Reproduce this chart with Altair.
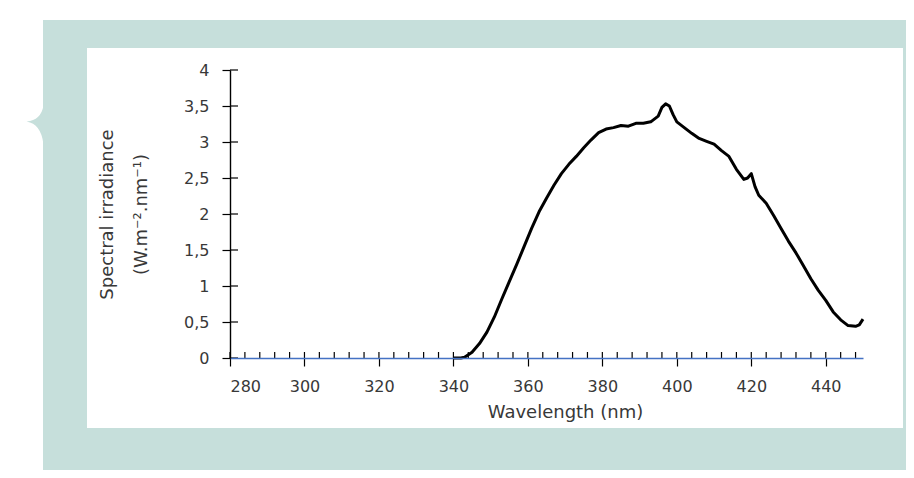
import altair as alt
import pandas as pd

# Spectrum
wavelength = [340, 342, 343, 345, 347, 349, 351, 353, 355, 357, 359, 361, 363,
              365, 367, 369, 371, 373, 375, 377, 379, 381, 383, 385, 387, 389, 391, 393,
              395, 396, 397, 398, 399, 400, 402, 404, 406, 408, 410, 412, 414, 416, 418,
              419, 420, 421, 422, 424, 426, 428, 430, 432, 434, 436, 438, 440, 442, 444,
              446, 448, 449, 450]
irradiance = [0, 0, 0.01, 0.08, 0.2, 0.36, 0.57, 0.82, 1.06, 1.3, 1.55, 1.8, 2.03,
              2.22, 2.4, 2.56, 2.69, 2.8, 2.92, 3.03, 3.13, 3.18, 3.2, 3.23, 3.22, 3.26, 3.26, 3.28,
              3.36, 3.48, 3.53, 3.5, 3.38, 3.28, 3.2, 3.12, 3.05, 3.01, 2.97, 2.88, 2.8, 2.62, 2.48,
              2.5, 2.56, 2.38, 2.26, 2.15, 1.98, 1.8, 1.62, 1.46, 1.28, 1.1, 0.94, 0.8, 0.64, 0.53,
              0.45, 0.44, 0.46, 0.54]

x_major_ticks = [280, 300, 320, 340, 360, 380, 400, 420, 440]
x_minor_ticks = list(range(280, 449, 4))
y_ticks = [0, 0.5, 1, 1.5, 2, 2.5, 3, 3.5, 4]

x_title = "Wavelength (nm)"
y_title = ["Spectral irradiance", "(W.m\u207b\u00b2.nm\u207b\u00b9)"]

TEAL = "#C6DFDB"
TEXT = "#383838"
FONT = "DejaVu Sans"

df = pd.DataFrame({"wl": wavelength, "irr": irradiance})
df_xt = pd.DataFrame({"wl": x_minor_ticks})
df_yt = pd.DataFrame({"irr": y_ticks})
one = pd.DataFrame({"k": [0]})

W, H = 633, 288

xscale = alt.Scale(domain=[280, 450], nice=False, zero=False)
yscale = alt.Scale(domain=[0, 4], nice=False, zero=True)

x_axis = alt.Axis(
    values=x_major_ticks, format="d", tickSize=8, tickColor="black", tickWidth=1.2,
    domainColor="#4472C4", domainWidth=1.6, grid=False, zindex=1,
    labelFont=FONT, labelFontSize=16, labelColor=TEXT, labelPadding=12,
    title=x_title, titleFont=FONT, titleFontSize=18, titleFontWeight="normal",
    titleColor=TEXT, titleX=335, titleY=54, titleAlign="center",
    titleBaseline="middle")
y_axis = alt.Axis(
    values=y_ticks, labelExpr="replace(toString(datum.value), '.', ',')",
    tickSize=8, tickColor="black", tickWidth=1.2,
    domainColor="black", domainWidth=1.4, grid=False, zindex=1,
    labelFont=FONT, labelFontSize=16, labelColor=TEXT, labelPadding=13,
    title=y_title, titleFont=FONT, titleFontSize=18, titleFontWeight="normal",
    titleColor=TEXT, titleAngle=270, titleX=-123, titleY=144, titleAlign="center",
    titleBaseline="middle", titleLineHeight=34)

teal_bg = alt.Chart(one).mark_rect(color=TEAL).encode(
    x=alt.value(-187), x2=alt.value(684), y=alt.value(-50), y2=alt.value(410))
white_bg = alt.Chart(one).mark_rect(color="white").encode(
    x=alt.value(-143), x2=alt.value(673), y=alt.value(-22), y2=alt.value(358))
notch = alt.Chart(one).mark_point(
    shape="M -0.42 -0.12 Q 0.3 -0.2 0.42 -0.9 L 0.7 -0.9 L 0.7 1 L 0.42 1 Q 0.3 0 -0.42 -0.12 Z",
    filled=True, fill=TEAL, opacity=1, size=1600, strokeWidth=0).encode(
    x=alt.value(-195), y=alt.value(54))

line = alt.Chart(df).mark_line(color="black", strokeWidth=3, strokeJoin="round").encode(
    x=alt.X("wl:Q", scale=xscale, axis=x_axis),
    y=alt.Y("irr:Q", scale=yscale, axis=y_axis),
)

x_inner = alt.Chart(df_xt).mark_rule(color="black", strokeWidth=1.2).encode(
    x=alt.X("wl:Q", scale=xscale, axis=x_axis), y=alt.value(H - 6), y2=alt.value(H))
y_inner = alt.Chart(df_yt).mark_rule(color="black", strokeWidth=1.2).encode(
    y=alt.Y("irr:Q", scale=yscale, axis=y_axis), x=alt.value(0), x2=alt.value(8))

chart = alt.layer(teal_bg, white_bg, notch, x_inner, y_inner, line).properties(
    width=W, height=H,
    autosize=alt.AutoSizeParams(type="none"),
    padding={"left": 222, "top": 62, "right": 43, "bottom": 112},
    background="white",
).configure_view(stroke=None)

chart.save("out.html", embed_options={"renderer": "svg", "actions": False})
